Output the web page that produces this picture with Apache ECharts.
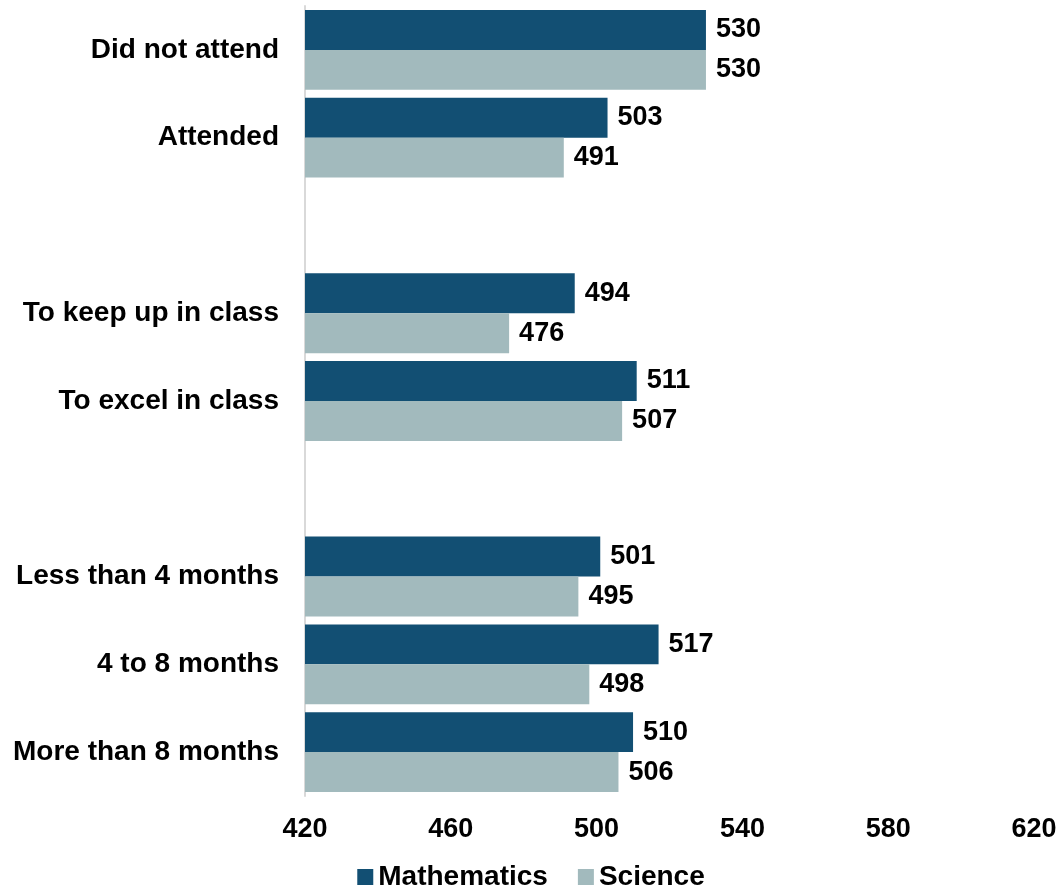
<!DOCTYPE html>
<html>
<head>
<meta charset="utf-8">
<script src="https://cdn.jsdelivr.net/npm/echarts@6/dist/echarts.min.js"></script>
<style>
  html, body { margin: 0; padding: 0; background: #fff; }
  #main { width: 1062px; height: 896px; }
</style>
</head>
<body>
<div id="main"></div>
<script>
// categories (empty strings are spacer rows between groups)
const categories = ['Did not attend', 'Attended', '', 'To keep up in class', 'To excel in class', '', 'Less than 4 months', '4 to 8 months', 'More than 8 months'];
const mathematics = [530, 503, null, 494, 511, null, 501, 517, 510];
const science = [530, 491, null, 476, 507, null, 495, 498, 506];
const xTicks = [420, 460, 500, 540, 580, 620];

const font = 'Liberation Sans, Arial, sans-serif';
const labelStyle = {
  show: true,
  position: 'right',
  distance: 10,
  color: '#000',
  fontFamily: font,
  fontWeight: 'bold',
  fontSize: 27
};

let myChart = echarts.init(document.getElementById('main'));
myChart.setOption({
  animation: false,
  grid: { left: 305, right: 28, top: 6, bottom: 100, containLabel: false },
  legend: {
    bottom: 0,
    left: 'center',
    itemWidth: 16,
    itemHeight: 16,
    itemGap: 30,
    icon: 'rect',
    textStyle: { fontFamily: font, fontWeight: 'bold', fontSize: 28, color: '#000' },
    data: ['Mathematics', 'Science']
  },
  xAxis: {
    type: 'value',
    min: xTicks[0],
    max: xTicks[xTicks.length - 1],
    interval: 40,
    splitLine: { show: false },
    axisLine: { show: false },
    axisTick: { show: false },
    axisLabel: {
      margin: 20,
      color: '#000',
      fontFamily: font,
      fontWeight: 'bold',
      fontSize: 27
    }
  },
  yAxis: {
    type: 'category',
    inverse: true,
    data: categories,
    axisLine: { show: true, lineStyle: { color: '#d9d9d9', width: 2 } },
    axisTick: { show: false },
    axisLabel: {
      margin: 26,
      color: '#000',
      fontFamily: font,
      fontWeight: 'bold',
      fontSize: 28
    }
  },
  series: [
    {
      name: 'Mathematics',
      type: 'bar',
      data: mathematics,
      barGap: '0%',
      barCategoryGap: '9%',
      itemStyle: { color: '#124f73' },
      label: labelStyle
    },
    {
      name: 'Science',
      type: 'bar',
      data: science,
      barGap: '0%',
      barCategoryGap: '9%',
      itemStyle: { color: '#a2babd' },
      label: labelStyle
    }
  ]
});
</script>
</body>
</html>
